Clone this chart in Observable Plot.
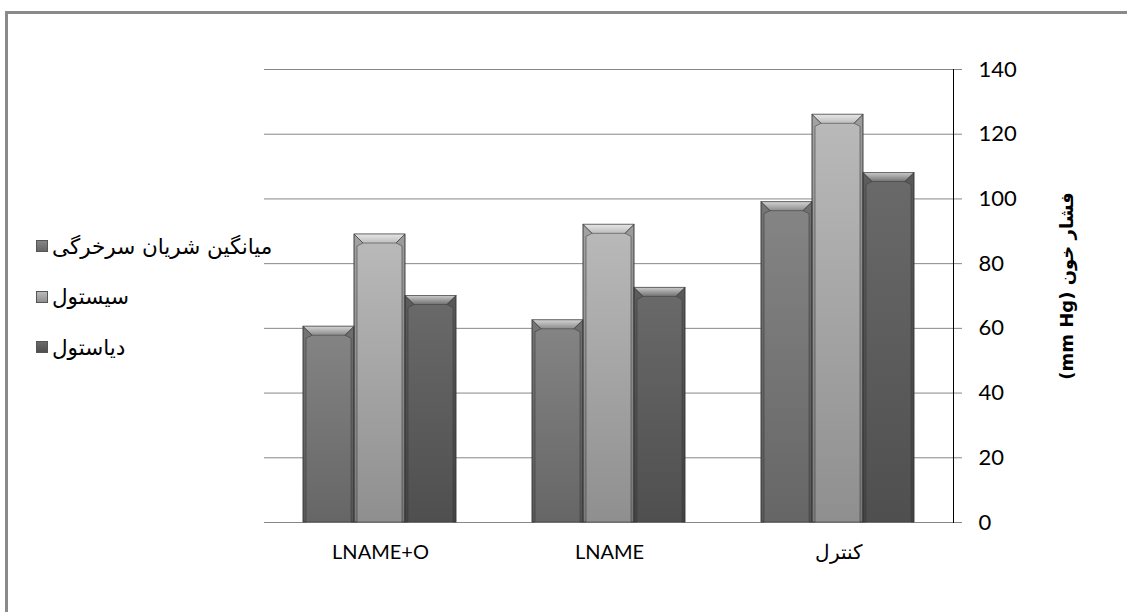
<!DOCTYPE html>
<html>
<head>
<meta charset="utf-8">
<script src="https://cdn.jsdelivr.net/npm/d3@7"></script>
<script src="https://cdn.jsdelivr.net/npm/@observablehq/plot@0.6"></script>
<style>
  html, body { margin: 0; padding: 0; background: #fff; }
  #wrap { position: relative; width: 1127px; height: 612px; overflow: hidden; }
  #border { position: absolute; left: 5px; top: 11px; width: 1200px; height: 700px;
            border-top: 3px solid #8a8a8a; border-left: 3px solid #8a8a8a; box-sizing: border-box; }
  #wrap svg { position: absolute; left: 0; top: 0; }
  #legend { position: absolute; left: 36px; top: 221px; font-family: "DejaVu Sans", sans-serif;
            font-size: 21.5px; color: #000; }
  #legend .row { display: flex; align-items: center; height: 50.5px; }
  #legend .sw { width: 10px; height: 10px; margin-right: 4px; border: 1px solid #555; }
  #ylab { position: absolute; left: 1067px; top: 286px; transform: translate(-50%, -50%) rotate(-90deg);
          white-space: nowrap; direction: rtl; font-family: "DejaVu Sans", sans-serif; font-weight: bold;
          font-size: 18px; color: #000; line-height: 1; }
  g[aria-label="y-axis tick"] path, g[aria-label="y-axis"] line, g[aria-label="y-axis"] path { stroke: #878787; }
</style>
</head>
<body>
<div id="wrap"><div id="border"></div></div>
<script>
// ---- data ----
const groups = ["LNAME+O", "LNAME", "کنترل"];
const series = ["میانگین شریان سرخرگی", "سیستول", "دیاستول"];
const meanValues = [60.5, 62.5, 99];
const systoleValues = [89, 92, 126];
const diastoleValues = [70, 72.5, 108];
const yTicks = [0, 20, 40, 60, 80, 100, 120, 140];
const yLabel = "فشار خون (mm Hg)";

// ---- colours (gradient ids per series) ----
const seriesTop = ["#858585", "#bababa", "#6a6a6a"];
const seriesBottom = ["#666666", "#8f8f8f", "#4f4f4f"];
const gradIds = ["gMean", "gSys", "gDia"];

const rows = [];
groups.forEach((g, i) => {
  rows.push({group: g, series: series[0], value: meanValues[i]});
  rows.push({group: g, series: series[1], value: systoleValues[i]});
  rows.push({group: g, series: series[2], value: diastoleValues[i]});
});

const W = 1127, H = 612;
const M = {marginLeft: 264, marginRight: 174, marginTop: 69, marginBottom: 90};

// ---- axes / grid layer ----
const axesPlot = Plot.plot({
  width: W, height: H, ...M,
  style: {fontFamily: "Lato, sans-serif", fontSize: "20px", background: "transparent", color: "#000", overflow: "visible"},
  x: {domain: groups, paddingInner: 0.33, paddingOuter: 0.165, label: null, tickSize: 0, tickPadding: 22},
  y: {domain: [0, 140], ticks: yTicks, axis: "right", label: null, tickSize: 8, tickPadding: 17, line: true},
  marks: [
    Plot.ruleY(yTicks, {stroke: "#878787", strokeWidth: 1})
  ]
});
// larger numerals on the value axis
axesPlot.querySelectorAll('g[aria-label="y-axis tick label"] text, g[aria-label="y-axis"] text').forEach(t => t.setAttribute("font-size", "22"));

// ---- bevel render ----
function bevel(index, scales, values, dimensions, context, next) {
  const g = next(index, scales, values, dimensions, context);
  const ns = "http://www.w3.org/2000/svg";
  g.querySelectorAll("rect").forEach(r => {
    const x = +r.getAttribute("x"), y = +r.getAttribute("y");
    const w = +r.getAttribute("width"), h = +r.getAttribute("height");
    const b = 9, e = 3;
    const top = document.createElementNS(ns, "polygon");
    top.setAttribute("points", `${x},${y} ${x + w},${y} ${x + w - b},${y + b} ${x + b},${y + b}`);
    top.setAttribute("fill", "url(#gBevel)");
    g.appendChild(top);
    const left = document.createElementNS(ns, "polygon");
    left.setAttribute("points", `${x},${y} ${x + b},${y + b} ${x + e},${y + b + 3} ${x + e},${y + h} ${x},${y + h}`);
    left.setAttribute("fill", "#000"); left.setAttribute("fill-opacity", "0.12");
    g.appendChild(left);
    const right = document.createElementNS(ns, "polygon");
    right.setAttribute("points", `${x + w},${y} ${x + w - b},${y + b} ${x + w - e},${y + b + 3} ${x + w - e},${y + h} ${x + w},${y + h}`);
    right.setAttribute("fill", "#000"); right.setAttribute("fill-opacity", "0.16");
    g.appendChild(right);
  });
  return g;
}

// ---- bars layer ----
const barsPlot = Plot.plot({
  width: W, height: H, ...M,
  style: {background: "transparent", overflow: "visible"},
  facet: {data: rows, x: "group"},
  fx: {domain: groups, paddingInner: 0.33, paddingOuter: 0.165, axis: null, label: null},
  x: {domain: series, padding: 0, axis: null},
  y: {domain: [0, 140], axis: null},
  color: {domain: series, range: gradIds.map(id => `url(#${id})`)},
  marks: [
    Plot.barY(rows, {x: "series", y: "value", fill: "series", stroke: "#3c3c3c", strokeOpacity: 0.55, strokeWidth: 1, render: bevel})
  ]
});

const defs = `<defs>
${gradIds.map((id, i) => `<linearGradient id="${id}" x1="0" y1="0" x2="0" y2="1">
  <stop offset="0" stop-color="${seriesTop[i]}"/><stop offset="1" stop-color="${seriesBottom[i]}"/></linearGradient>`).join("")}
<linearGradient id="gBevel" x1="0" y1="0" x2="0" y2="1">
  <stop offset="0" stop-color="#fff" stop-opacity="0.65"/><stop offset="1" stop-color="#fff" stop-opacity="0.05"/></linearGradient>
</defs>`;
barsPlot.insertAdjacentHTML("afterbegin", defs);

const wrap = document.getElementById("wrap");
wrap.appendChild(axesPlot);
wrap.appendChild(barsPlot);

// ---- y-axis title (HTML, rtl) ----
const ylab = document.createElement("div");
ylab.id = "ylab";
ylab.textContent = yLabel;
wrap.appendChild(ylab);

// ---- legend (HTML) ----
const legend = document.createElement("div");
legend.id = "legend";
series.forEach((s, i) => {
  const row = document.createElement("div");
  row.className = "row";
  const sw = document.createElement("span");
  sw.className = "sw";
  sw.style.background = `linear-gradient(${seriesTop[i]}, ${seriesBottom[i]})`;
  const t = document.createElement("span");
  t.textContent = s;
  row.appendChild(sw); row.appendChild(t);
  legend.appendChild(row);
});
wrap.appendChild(legend);
</script>
</body>
</html>
